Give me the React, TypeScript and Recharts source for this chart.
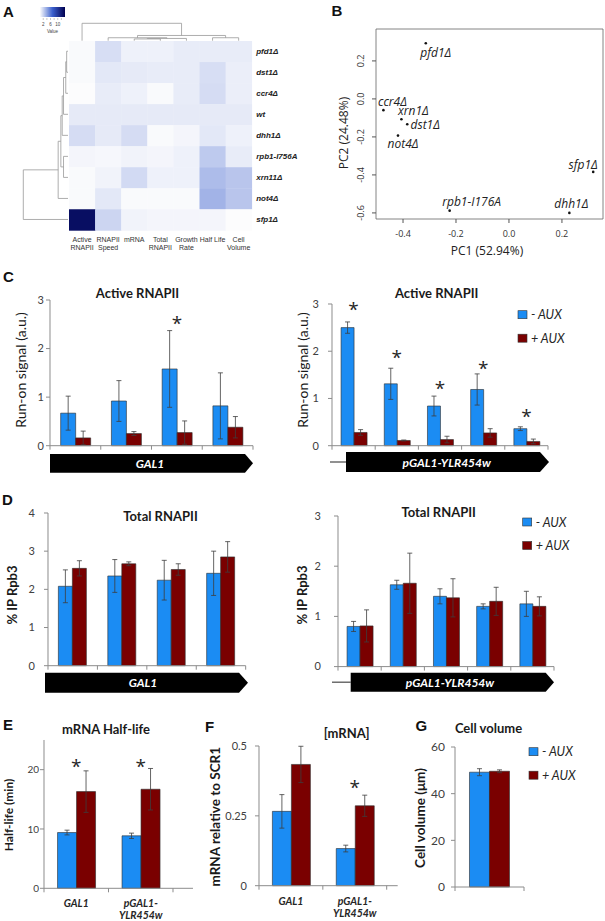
import React from "react";
import {
  ComposedChart,
  Bar,
  Line,
  XAxis,
  YAxis,
  ErrorBar,
  ScatterChart,
  Scatter,
  ReferenceArea,
} from "recharts";

const BLUE = "#1b8cf3";
const RED = "#7a0000";
const AXIS = "#8c8c8c";
const INK = "#262626";
const BAR_FONT = "Lato, 'Open Sans', sans-serif";
const R_FONT = "'Open Sans', 'DejaVu Sans', sans-serif";
const HM_FONT = "'Liberation Sans', Arial, sans-serif";

// ---------- A: heatmap (relative to wt) ----------
const hmRows = ["pfd1Δ", "dst1Δ", "ccr4Δ", "wt", "dhh1Δ", "rpb1-I756A", "xrn11Δ", "not4Δ", "sfp1Δ"];
const hmCols = ["Active\nRNAPII", "RNAPII\nSpeed", "mRNA", "Total\nRNAPII", "Growth\nRate", "Half Life", "Cell\nVolume"];
const hmValues = [
  [0.3, 1.5, 0.7, 0.7, 0.9, 0.9, 0.9],
  [0.3, 1.1, 1.0, 0.9, 0.9, 1.5, 0.8],
  [0.2, 0.9, 0.7, 0.3, 0.9, 1.6, 0.8],
  [1.0, 1.0, 1.0, 1.0, 1.0, 1.0, 1.0],
  [1.6, 1.0, 1.6, 0.3, 0.5, 1.1, 0.7],
  [0.5, 0.4, 0.6, 0.5, 0.7, 2.4, 0.9],
  [0.3, 0.6, 1.7, 0.7, 0.7, 3.0, 2.6],
  [0.3, 1.1, 0.3, 0.3, 0.3, 3.4, 2.6],
  [13, 1.9, 0.6, 0.5, 0.5, 0.5, 0.2],
];
const keyTicks = [2, 6, 10];

type Tree = number | { h: number; kids: [Tree, Tree] };
// leaves are row / column indices, h = merge height (0..1)
const rowTree: Tree = {
  h: 1,
  kids: [
    {
      h: 0.22,
      kids: [
        {
          h: 0.16,
          kids: [
            { h: 0.13, kids: [{ h: 0.1, kids: [{ h: 0.05, kids: [{ h: 0.03, kids: [0, 1] }, 2] }, 3] }, 4] },
            { h: 0.1, kids: [5, 6] },
          ],
        },
        7,
      ],
    },
    8,
  ],
};
const colTree: Tree = {
  h: 1,
  kids: [
    0,
    {
      h: 0.3,
      kids: [
        { h: 0.17, kids: [1, { h: 0.13, kids: [{ h: 0.1, kids: [2, 3] }, 4] }] },
        { h: 0.17, kids: [5, 6] },
      ],
    },
  ],
};

// ---------- B: PCA ----------
const pcaNames = ["pfd1Δ", "ccr4Δ", "xrn1Δ", "dst1Δ", "not4Δ", "sfp1Δ", "rpb1-I176A", "dhh1Δ"];
const pc1 = [-0.314, -0.474, -0.406, -0.384, -0.419, 0.318, -0.224, 0.228];
const pc2 = [0.293, -0.059, -0.107, -0.133, -0.193, -0.384, -0.588, -0.6];
const pcaXTicks = [-0.4, -0.2, 0, 0.2];
const pcaYTicks = [-0.6, -0.4, -0.2, 0, 0.2];

// ---------- C: active RNAPII (run-on) ----------
const galSites = ["GAL1-1", "GAL1-2", "GAL1-3", "GAL1-4"];
const ylrSites = ["YLR-1", "YLR-2", "YLR-3", "YLR-4", "YLR-5"];

const activeGalMinus = [0.67, 0.92, 1.58, 0.82];
const activeGalMinusErr = [0.35, 0.42, 0.79, 0.68];
const activeGalPlus = [0.16, 0.25, 0.27, 0.38];
const activeGalPlusErr = [0.14, 0.04, 0.24, 0.22];
const activeGalStar = [null, null, 2.6, null];

const activeYlrMinus = [2.5, 1.31, 0.84, 1.19, 0.36];
const activeYlrMinusErr = [0.12, 0.33, 0.21, 0.33, 0.04];
const activeYlrPlus = [0.28, 0.11, 0.13, 0.27, 0.09];
const activeYlrPlusErr = [0.06, 0.01, 0.07, 0.09, 0.05];
const activeYlrStar = [2.97, 1.96, 1.31, 1.73, 0.72];

// ---------- D: total RNAPII ----------
const totalGalMinus = [2.08, 2.35, 2.24, 2.42];
const totalGalMinusErr = [0.43, 0.43, 0.52, 0.58];
const totalGalPlus = [2.55, 2.67, 2.52, 2.85];
const totalGalPlusErr = [0.2, 0.05, 0.15, 0.4];

const totalYlrMinus = [0.8, 1.63, 1.4, 1.2, 1.25];
const totalYlrMinusErr = [0.1, 0.09, 0.15, 0.05, 0.25];
const totalYlrPlus = [0.81, 1.66, 1.37, 1.3, 1.2];
const totalYlrPlusErr = [0.32, 0.6, 0.38, 0.28, 0.19];

// ---------- E, F, G ----------
const genes = ["GAL1", "pGAL1-\nYLR454w"];
const halfMinus = [9.4, 8.85];
const halfMinusErr = [0.4, 0.45];
const halfPlus = [16.3, 16.7];
const halfPlusErr = [3.5, 3.5];
const halfStar = [21.3, 21.3];

const mrnaMinus = [0.266, 0.133];
const mrnaMinusErr = [0.06, 0.012];
const mrnaPlus = [0.434, 0.286];
const mrnaPlusErr = [0.065, 0.038];
const mrnaStar = [null, 0.366];

const volCats = ["Cell volume"];
const volMinus = [49.2];
const volMinusErr = [1.5];
const volPlus = [49.6];
const volPlusErr = [0.6];

const auxSeries = [
  { key: "minus", name: "- AUX", color: BLUE },
  { key: "plus", name: "+ AUX", color: RED },
];

type Row = { cat: string; minus: number; minusErr: number; plus: number; plusErr: number; star: number | null };

function toRows(
  cats: string[],
  minus: number[],
  minusErr: number[],
  plus: number[],
  plusErr: number[],
  star?: (number | null)[]
): Row[] {
  return cats.map((cat, i) => ({
    cat,
    minus: minus[i],
    minusErr: minusErr[i],
    plus: plus[i],
    plusErr: plusErr[i],
    star: star ? star[i] : null,
  }));
}

const activeGalRows = toRows(galSites, activeGalMinus, activeGalMinusErr, activeGalPlus, activeGalPlusErr, activeGalStar);
const activeYlrRows = toRows(ylrSites, activeYlrMinus, activeYlrMinusErr, activeYlrPlus, activeYlrPlusErr, activeYlrStar);
const totalGalRows = toRows(galSites, totalGalMinus, totalGalMinusErr, totalGalPlus, totalGalPlusErr);
const totalYlrRows = toRows(ylrSites, totalYlrMinus, totalYlrMinusErr, totalYlrPlus, totalYlrPlusErr);
const halfRows = toRows(genes, halfMinus, halfMinusErr, halfPlus, halfPlusErr, halfStar);
const mrnaRows = toRows(genes, mrnaMinus, mrnaMinusErr, mrnaPlus, mrnaPlusErr, mrnaStar);
const volRows = toRows(volCats, volMinus, volMinusErr, volPlus, volPlusErr);

// ---------- layout ----------
type Box = { x: number; y: number; w: number; h: number };
const HM: Box = { x: 69, y: 40.7, w: 182.7, h: 189.3 };
const PCA: Box = { x: 376, y: 29, w: 227, h: 190 };

const KEY_MIN = 0.2;
const KEY_MAX = 14;
function heatColor(v: number) {
  const t = Math.max(0, Math.min(1, (v - KEY_MIN) / (KEY_MAX - KEY_MIN)));
  const stops = [
    [252, 252, 253],
    [58, 95, 205],
    [0, 0, 80],
  ];
  const [a, b, f] = t < 0.5 ? [stops[0], stops[1], t / 0.5] : [stops[1], stops[2], (t - 0.5) / 0.5];
  return `rgb(${a.map((c, i) => Math.round(c + (b[i] - c) * f)).join(",")})`;
}

type Seg = [number, number, number, number];
function dendro(t: Tree, leafPos: (i: number) => number, segs: Seg[]): { p: number; h: number } {
  if (typeof t === "number") return { p: leafPos(t), h: 0 };
  const a = dendro(t.kids[0], leafPos, segs);
  const b = dendro(t.kids[1], leafPos, segs);
  segs.push([a.p, a.h, a.p, t.h], [b.p, b.h, b.p, t.h], [a.p, t.h, b.p, t.h]);
  return { p: (a.p + b.p) / 2, h: t.h };
}

const cellW = HM.w / hmCols.length;
const cellH = HM.h / hmRows.length;
const colCenter = (i: number) => HM.x + cellW * (i + 0.5);
const rowCenter = (i: number) => HM.y + cellH * (i + 0.5);

function Heatmap() {
  const cells = hmValues.flatMap((row, ri) =>
    row.map((v, ci) => ({ c: ci + 0.5, r: hmRows.length - ri - 0.5, v }))
  );
  const CellShape = (p: any) => (
    <rect x={p.cx - cellW / 2} y={p.cy - cellH / 2} width={cellW + 0.4} height={cellH + 0.4} fill={heatColor(p.payload.v)} />
  );
  const ColTick = (p: any) => {
    const label = hmCols[Math.round(p.payload.value - 0.5)] ?? "";
    return (
      <g>
        {label.split("\n").map((s, i) => (
          <text key={i} x={p.x} y={p.y + 9 + i * 8} textAnchor="middle" dominantBaseline="central" fontFamily={HM_FONT} fontSize={7} fill="#333">
            {s}
          </text>
        ))}
      </g>
    );
  };
  const RowTick = (p: any) => {
    const label = hmRows[Math.round(hmRows.length - 0.5 - p.payload.value)] ?? "";
    return (
      <text x={p.x + 4.5} y={p.y} dominantBaseline="central" fontFamily={HM_FONT} fontSize={8} fontWeight="bold" fontStyle="italic" fill="#222">
        {label}
      </text>
    );
  };
  return (
    <div style={{ position: "absolute", left: HM.x, top: HM.y - 2 }}>
      <ScatterChart width={HM.w + 50} height={HM.h + 30} margin={{ top: 2, right: 0, left: 0, bottom: 0 }}>
        <XAxis
          type="number"
          dataKey="c"
          domain={[0, hmCols.length]}
          ticks={hmCols.map((_, i) => i + 0.5)}
          interval={0}
          height={28}
          axisLine={false}
          tickLine={false}
          tickSize={0}
          tickMargin={0}
          tick={ColTick}
        />
        <YAxis
          type="number"
          dataKey="r"
          orientation="right"
          domain={[0, hmRows.length]}
          ticks={hmRows.map((_, i) => i + 0.5)}
          interval={0}
          width={50}
          axisLine={false}
          tickLine={false}
          tickSize={0}
          tickMargin={0}
          tick={RowTick}
        />
        <Scatter data={cells} shape={CellShape} isAnimationActive={false} />
      </ScatterChart>
    </div>
  );
}

// label nudges for the PCA point names (px)
const pcaNudge: Record<string, [number, number]> = {
  "pfd1Δ": [10, 9],
  "ccr4Δ": [9, -9],
  "xrn1Δ": [12, -9],
  "dst1Δ": [18, 0],
  "not4Δ": [5, 8],
  "sfp1Δ": [-10, -7],
  "rpb1-I176A": [22, -9],
  "dhh1Δ": [2, -9],
};

function PcaPlot() {
  const points = pcaNames.map((name, i) => ({ name, pc1: pc1[i], pc2: pc2[i] }));
  const Point = (p: any) => {
    const [dx, dy] = pcaNudge[p.payload.name] ?? [0, -9];
    return (
      <g>
        <circle cx={p.cx} cy={p.cy} r={1.3} fill="#111" />
        <text x={p.cx + dx} y={p.cy + dy} textAnchor="middle" dominantBaseline="central" fontFamily={R_FONT} fontStyle="italic" fontSize={12} fill="#222">
          {p.payload.name}
        </text>
      </g>
    );
  };
  const YTick = (p: any) => (
    <text x={p.x} y={p.y} transform={`rotate(-90 ${p.x} ${p.y})`} textAnchor="middle" fontFamily={R_FONT} fontSize={9} fill="#333">
      {Number(p.payload.value).toFixed(1)}
    </text>
  );
  return (
    <div style={{ position: "absolute", left: PCA.x - 45, top: PCA.y - 5 }}>
      <ScatterChart width={45 + PCA.w + 2} height={5 + PCA.h + 35} margin={{ top: 5, right: 2, left: 0, bottom: 0 }}>
        <XAxis
          type="number"
          dataKey="pc1"
          domain={[-0.502, 0.355]}
          ticks={pcaXTicks}
          interval={0}
          height={35}
          axisLine={false}
          tickLine={{ stroke: "#555" }}
          tickSize={4}
          tickMargin={8}
          tickFormatter={(v: number) => v.toFixed(1)}
          tick={{ fontSize: 9, fill: "#333", fontFamily: R_FONT }}
        />
        <YAxis
          type="number"
          dataKey="pc2"
          domain={[-0.632, 0.368]}
          ticks={pcaYTicks}
          interval={0}
          width={45}
          axisLine={false}
          tickLine={{ stroke: "#555" }}
          tickSize={4}
          tickMargin={8}
          tick={YTick}
        />
        <ReferenceArea x1={-0.502} x2={0.355} y1={-0.632} y2={0.368} fill="none" stroke="#666" strokeWidth={0.8} />
        <Scatter data={points} shape={Point} isAnimationActive={false} />
      </ScatterChart>
    </div>
  );
}

const StarDot = (p: any) => {
  const { cx, cy, index } = p;
  if (p.value == null || cy == null || Number.isNaN(cy)) return <g key={`s${index}`} />;
  return (
    <text key={`s${index}`} x={cx} y={cy + 11} textAnchor="middle" fontFamily={R_FONT} fontSize={19} fill={INK}>
      *
    </text>
  );
};

function BarPanel(props: {
  box: Box;
  rows: Row[];
  domain: [number, number];
  ticks: number[];
  tickGap: number;
  tickFont?: number;
  padRight?: number;
  catLabels?: boolean;
}) {
  const { box, rows, domain, ticks, tickGap, tickFont = 11, padRight = 0, catLabels = false } = props;
  const n = rows.length;
  const band = (box.w - padRight) / n;
  const hasStars = rows.some((r) => r.star != null);
  const CatTick = (p: any) => {
    const edge = (ex: number, k: string) => <line key={k} x1={ex} x2={ex} y1={p.y} y2={p.y + 4} stroke={AXIS} />;
    return (
      <g>
        {edge(p.x - band / 2, "l")}
        {p.index === n - 1 && edge(p.x + band / 2, "r")}
        {catLabels &&
          String(p.payload.value)
            .split("\n")
            .map((s, i) => (
              <text
                key={i}
                x={p.x}
                y={p.y + 15 + i * 12}
                textAnchor="middle"
                dominantBaseline="central"
                fontFamily={BAR_FONT}
                fontSize={10.5}
                fontWeight="bold"
                fontStyle="italic"
                fill={INK}
              >
                {s}
              </text>
            ))}
      </g>
    );
  };
  return (
    <div style={{ position: "absolute", left: box.x - 50, top: box.y - 20 }}>
      <ComposedChart
        width={box.w + 60}
        height={box.h + 60}
        data={rows}
        margin={{ top: 20, right: 10, left: 0, bottom: 0 }}
        barCategoryGap="21%"
        barGap={0}
      >
        <XAxis
          dataKey="cat"
          height={40}
          padding={{ left: 0, right: padRight }}
          interval={0}
          axisLine={{ stroke: AXIS }}
          tickLine={false}
          tickSize={0}
          tickMargin={0}
          tick={CatTick}
        />
        <YAxis
          width={50}
          domain={domain}
          ticks={ticks}
          interval={0}
          axisLine={{ stroke: AXIS }}
          tickLine={{ stroke: AXIS }}
          tickSize={4}
          tickMargin={tickGap}
          tick={{ fontSize: tickFont, fill: "#404040", fontFamily: BAR_FONT }}
        />
        {auxSeries.map((s) => (
          <Bar key={s.key} dataKey={s.key} name={s.name} fill={s.color} stroke="#2b2b2b" strokeWidth={0.6} isAnimationActive={false}>
            <ErrorBar dataKey={`${s.key}Err`} width={2.5} stroke="#3d3d3d" strokeWidth={0.8} />
          </Bar>
        ))}
        {hasStars && (
          <Line dataKey="star" stroke="none" dot={StarDot} activeDot={false} legendType="none" isAnimationActive={false} />
        )}
      </ComposedChart>
    </div>
  );
}

function Title({ x, y, text }: { x: number; y: number; text: string }) {
  return (
    <text x={x} y={y} textAnchor="middle" dominantBaseline="central" fontFamily={BAR_FONT} fontSize={13} fontWeight="bold" fill="#1a1a1a">
      {text}
    </text>
  );
}

function YTitle({ x, y, text, size = 13, bold = true }: { x: number; y: number; text: string; size?: number; bold?: boolean }) {
  return (
    <text
      transform={`translate(${x} ${y}) rotate(-90)`}
      textAnchor="middle"
      dominantBaseline="central"
      fontFamily={BAR_FONT}
      fontSize={size}
      fontWeight={bold ? "bold" : "normal"}
      fill="#1a1a1a"
    >
      {text}
    </text>
  );
}

function GeneArrow(p: { x0: number; x1: number; tip: number; y0: number; y1: number; label: string; lx: number; lead?: number }) {
  const mid = (p.y0 + p.y1) / 2;
  return (
    <g>
      {p.lead != null && <line x1={p.lead} x2={p.x0} y1={mid} y2={mid} stroke="#555" strokeWidth={1.3} />}
      <polygon points={`${p.x0},${p.y0} ${p.x1},${p.y0} ${p.tip},${mid} ${p.x1},${p.y1} ${p.x0},${p.y1}`} fill="#000" />
      <text x={p.lx} y={mid} textAnchor="middle" dominantBaseline="central" fontFamily={BAR_FONT} fontSize={12} fontWeight="bold" fontStyle="italic" fill="#fff">
        {p.label}
      </text>
    </g>
  );
}

function AuxLegend({ x, y }: { x: number; y: number }) {
  return (
    <g>
      {auxSeries.map((s, i) => (
        <g key={s.key}>
          <rect x={x} y={y + i * 23.5} width={9} height={8} fill={s.color} stroke="#333" strokeWidth={0.6} />
          <text x={x + 13} y={y + i * 23.5 + 4} dominantBaseline="central" fontFamily={BAR_FONT} fontSize={12.5} fontStyle="italic" fill={INK}>
            {s.name}
          </text>
        </g>
      ))}
    </g>
  );
}

function Decor() {
  const rowSegs: Seg[] = [];
  dendro(rowTree, rowCenter, rowSegs);
  const colSegs: Seg[] = [];
  dendro(colTree, colCenter, colSegs);
  const rx = (h: number) => HM.x - 1 - h * 44.7;
  const cy = (h: number) => HM.y - h * 17.4;
  const keyX = (v: number) => 40 + ((v - KEY_MIN) / (KEY_MAX - KEY_MIN)) * 25;
  const letters: [string, number, number][] = [
    ["A", 3, 16.7],
    ["B", 331.5, 16],
    ["C", 3, 281.7],
    ["D", 2, 505],
    ["E", 3, 730],
    ["F", 205, 731.7],
    ["G", 415.5, 730.7],
  ];
  return (
    <svg width={605} height={921} style={{ position: "absolute", left: 0, top: 0, pointerEvents: "none" }}>
      <defs>
        <linearGradient id="hmKey" x1="0" x2="1" y1="0" y2="0">
          {[0, 0.25, 0.5, 0.75, 1].map((t) => (
            <stop key={t} offset={t} stopColor={heatColor(KEY_MIN + t * (KEY_MAX - KEY_MIN))} />
          ))}
        </linearGradient>
      </defs>
      {letters.map(([l, x, y]) => (
        <text key={l} x={x} y={y} fontFamily={HM_FONT} fontSize={15} fontWeight="bold" fill="#111">
          {l}
        </text>
      ))}

      {/* A: colour key + dendrograms */}
      <rect x={40} y={7} width={25} height={10} fill="url(#hmKey)" />
      {[2, 4, 6, 8, 10, 12].map((v) => (
        <line key={v} x1={keyX(v)} x2={keyX(v)} y1={18} y2={20} stroke="#777" strokeWidth={0.4} />
      ))}
      {keyTicks.map((v) => (
        <text key={v} x={keyX(v)} y={24.5} textAnchor="middle" dominantBaseline="central" fontFamily={HM_FONT} fontSize={4.5} fill="#444">
          {v}
        </text>
      ))}
      <text x={52.5} y={31} textAnchor="middle" dominantBaseline="central" fontFamily={HM_FONT} fontSize={4.5} fill="#444">
        Value
      </text>
      {rowSegs.map(([p1, h1, p2, h2], i) => (
        <line key={`r${i}`} x1={rx(h1)} x2={rx(h2)} y1={p1} y2={p2} stroke="#999" strokeWidth={0.8} />
      ))}
      {colSegs.map(([p1, h1, p2, h2], i) => (
        <line key={`c${i}`} x1={p1} x2={p2} y1={cy(h1)} y2={cy(h2)} stroke="#999" strokeWidth={0.8} />
      ))}

      {/* B: axis titles */}
      <text x={487} y={250} textAnchor="middle" dominantBaseline="central" fontFamily={R_FONT} fontSize={12} fill="#222">
        PC1 (52.94%)
      </text>
      <text transform="translate(343 133) rotate(-90)" textAnchor="middle" dominantBaseline="central" fontFamily={R_FONT} fontSize={12} fill="#222">
        PC2 (24.48%)
      </text>

      {/* C */}
      <Title x={137.5} y={293} text="Active RNAPII" />
      <Title x={436.7} y={293} text="Active RNAPII" />
      <YTitle x={20} y={370} text="Run-on signal (a.u.)" size={14} bold={false} />
      <YTitle x={302} y={370} text="Run-on signal (a.u.)" size={14} bold={false} />
      <GeneArrow x0={50} x1={245} tip={253} y0={454} y1={472.7} label="GAL1" lx={150} />
      <GeneArrow x0={346} x1={540} tip={549} y0={452} y1={472} label="pGAL1-YLR454w" lx={446.7} lead={330} />
      <AuxLegend x={518} y={310.7} />

      {/* D */}
      <Title x={160.5} y={516} text="Total RNAPII" />
      <Title x={438.7} y={512.3} text="Total RNAPII" />
      <YTitle x={12} y={595} text="% IP Rpb3" />
      <YTitle x={302} y={595} text="% IP Rpb3" />
      <GeneArrow x0={45} x1={239} tip={248} y0={672.7} y1={692.7} label="GAL1" lx={143} />
      <GeneArrow x0={350.7} x1={545.7} tip={554} y0={672.7} y1={691.7} label="pGAL1-YLR454w" lx={450} lead={332} />
      <AuxLegend x={522.7} y={518} />

      {/* E, F, G */}
      <Title x={106} y={729.3} text="mRNA Half-life" />
      <Title x={346.7} y={732.7} text="[mRNA]" />
      <Title x={488.5} y={728.3} text="Cell volume" />
      <YTitle x={8.5} y={815} text="Half-life (min)" size={12} />
      <YTitle x={215} y={816.7} text="mRNA relative to SCR1" size={13.5} />
      <YTitle x={420} y={818} text="Cell volume (μm)" size={13.5} />
      <AuxLegend x={529} y={747.7} />
    </svg>
  );
}

export default function App() {
  return (
    <div style={{ position: "absolute", left: 0, top: 0, width: 605, height: 921, background: "#fff", overflow: "hidden" }}>
      <Heatmap />
      <PcaPlot />
      <BarPanel box={{ x: 50, y: 300, w: 203, h: 145.7 }} rows={activeGalRows} domain={[0, 3]} ticks={[0, 1, 2, 3]} tickGap={2} />
      <BarPanel box={{ x: 332.3, y: 304, w: 216, h: 141.7 }} rows={activeYlrRows} domain={[0, 3]} ticks={[0, 1, 2, 3]} tickGap={9} />
      <BarPanel box={{ x: 48.3, y: 513.3, w: 197.7, h: 152.7 }} rows={totalGalRows} domain={[0, 4]} ticks={[0, 1, 2, 3, 4]} tickGap={9} />
      <BarPanel box={{ x: 338.3, y: 515.7, w: 216, h: 150.6 }} rows={totalYlrRows} domain={[0, 3]} ticks={[0, 1, 2, 3]} tickGap={13} />
      <BarPanel
        box={{ x: 44.3, y: 740, w: 149, h: 148.3 }}
        rows={halfRows}
        domain={[0, 25]}
        ticks={[0, 10, 20]}
        tickGap={1}
        tickFont={10}
        padRight={20}
        catLabels
      />
      <BarPanel
        box={{ x: 259.3, y: 746, w: 138.7, h: 139.7 }}
        rows={mrnaRows}
        domain={[0, 0.5]}
        ticks={[0, 0.25, 0.5]}
        tickGap={8}
        padRight={11}
        catLabels
      />
      <BarPanel box={{ x: 455, y: 746.7, w: 69, h: 140 }} rows={volRows} domain={[0, 60]} ticks={[0, 20, 40, 60]} tickGap={6} tickFont={12} />
      <Decor />
    </div>
  );
}
